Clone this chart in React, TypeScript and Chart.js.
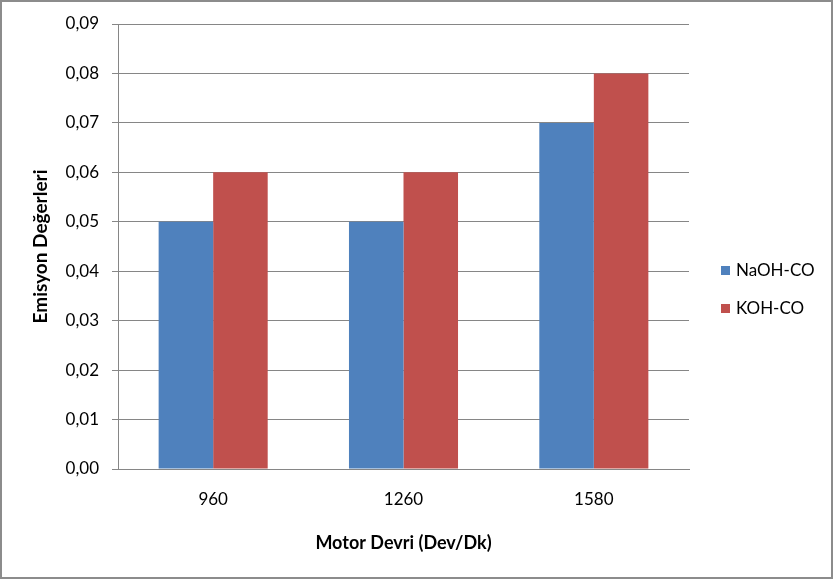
import React, { useEffect, useRef } from "react";
import { Chart, registerables } from "chart.js";

Chart.register(...registerables);

const categories = ["960", "1260", "1580"];
const naohValues = [0.05, 0.05, 0.07];
const kohValues = [0.06, 0.06, 0.08];
const seriesLabels = ["NaOH-CO", "KOH-CO"];
const seriesColors = ["#4F81BD", "#C0504D"];
const yTitle = "Emisyon Değerleri";
const xTitle = "Motor Devri (Dev/Dk)";

const FONT = "Lato, 'Open Sans', sans-serif";
const GRID = "#868686";

const borderPlugin = {
  id: "outerBorder",
  beforeDraw(chart: any) {
    const { ctx, width, height } = chart;
    ctx.save();
    ctx.fillStyle = "#ffffff";
    ctx.fillRect(0, 0, width, height);
    ctx.restore();
  },
  afterDraw(chart: any) {
    const { ctx, width, height } = chart;
    ctx.save();
    ctx.strokeStyle = "#8c8c8c";
    ctx.lineWidth = 2;
    ctx.strokeRect(1, 1, width - 3, height - 3);
    ctx.restore();
  },
};

const legendPlugin = {
  id: "sideLegend",
  afterDraw(chart: any) {
    const { ctx, chartArea, height } = chart;
    const ds = chart.data.datasets;
    const spacing = 38;
    const box = 9;
    const x = chartArea.right + 32;
    const startY = height / 2 - ((ds.length - 1) * spacing) / 2 - 0.5;
    ctx.save();
    ctx.font = `17px ${FONT}`;
    ctx.textBaseline = "middle";
    ctx.textAlign = "left";
    ds.forEach((d: any, i: number) => {
      const cy = startY + i * spacing;
      ctx.fillStyle = d.backgroundColor;
      ctx.fillRect(x, cy - box / 2, box, box);
      ctx.fillStyle = "#000";
      ctx.fillText(d.label, x + 15, cy);
    });
    ctx.restore();
  },
};

export default function App() {
  const ref = useRef<HTMLCanvasElement | null>(null);

  useEffect(() => {
    document.body.style.margin = "0";
    const canvas = ref.current!;
    const chart = new Chart(canvas, {
      type: "bar",
      data: {
        labels: categories,
        datasets: [
          {
            label: seriesLabels[0],
            data: naohValues,
            backgroundColor: seriesColors[0],
            categoryPercentage: 0.573,
            barPercentage: 1.0,
          },
          {
            label: seriesLabels[1],
            data: kohValues,
            backgroundColor: seriesColors[1],
            categoryPercentage: 0.573,
            barPercentage: 1.0,
          },
        ],
      },
      options: {
        animation: false,
        responsive: false,
        devicePixelRatio: 1,
        layout: { padding: { left: 29, right: 145, top: 24, bottom: 26 } },
        plugins: {
          legend: { display: false },
          tooltip: { enabled: false },
        },
        scales: {
          x: {
            grid: { display: false, drawTicks: false },
            border: { display: true, color: GRID, width: 1 },
            ticks: {
              color: "#000",
              font: { family: FONT, size: 17 },
              padding: 20,
            },
            title: {
              display: true,
              text: xTitle,
              color: "#000",
              font: { family: FONT, size: 18, weight: "bold" },
              padding: 0,
            },
            afterFit(scale: any) {
              scale.height = 85;
            },
          },
          y: {
            min: 0,
            max: 0.09,
            grid: {
              color: GRID,
              lineWidth: 1,
              drawTicks: true,
              tickLength: 6,
            },
            border: { display: true, color: GRID, width: 1 },
            ticks: {
              stepSize: 0.01,
              color: "#000",
              font: { family: FONT, size: 17 },
              padding: 13,
              callback: (v: any) => Number(v).toFixed(2).replace(".", ","),
            },
            title: {
              display: true,
              text: yTitle,
              color: "#000",
              font: { family: FONT, size: 19, weight: "bold" },
              padding: 0,
            },
            afterFit(scale: any) {
              scale.width = 89;
            },
          },
        },
      },
      plugins: [borderPlugin, legendPlugin],
    });
    return () => chart.destroy();
  }, []);

  return (
    <div style={{ position: "absolute", left: 0, top: 0, width: 834, height: 580 }}>
      <canvas ref={ref} width={834} height={580} style={{ width: 834, height: 580, display: "block" }} />
    </div>
  );
}
